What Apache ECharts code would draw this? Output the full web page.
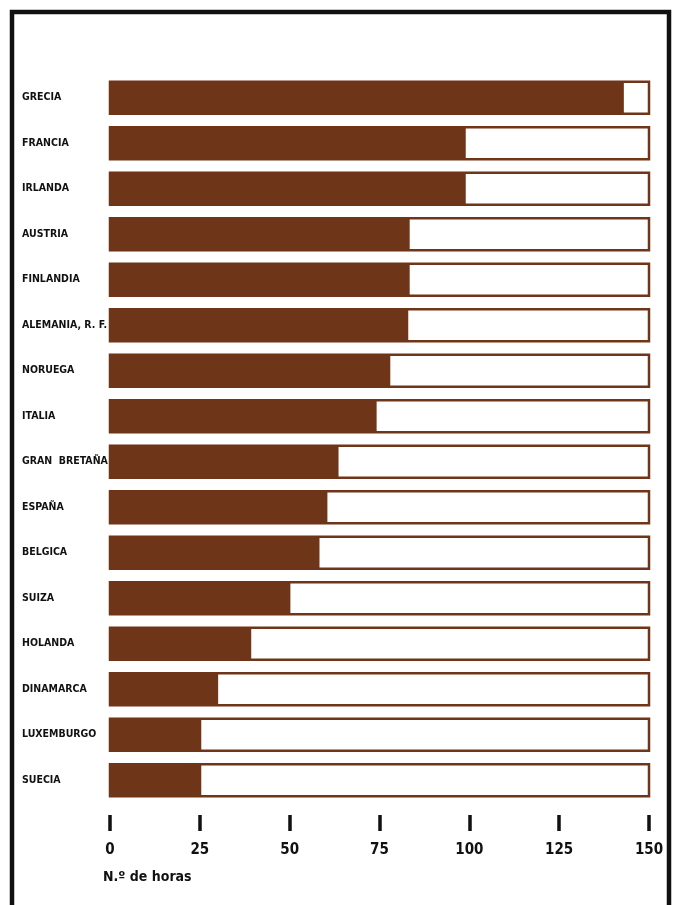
<!DOCTYPE html>
<html>
<head>
<meta charset="utf-8">
<script src="https://cdn.jsdelivr.net/npm/echarts@6/dist/echarts.min.js"></script>
<style>
html,body{margin:0;padding:0;background:#fff;}
#c{width:674px;height:905px;}
</style>
</head>
<body>
<div id="c"></div>
<script>
const countries = ['GRECIA','FRANCIA','IRLANDA','AUSTRIA','FINLANDIA','ALEMANIA, R. F.','NORUEGA','ITALIA','GRAN  BRETAÑA','ESPAÑA','BELGICA','SUIZA','HOLANDA','DINAMARCA','LUXEMBURGO','SUECIA'];
const hours = [143, 99, 99, 83.4, 83.4, 83, 78, 74.2, 63.6, 60.5, 58.3, 50.2, 39.3, 30.1, 25.4, 25.4];
const axisMax = 150;
const tickStep = 25;
const axisTitle = 'N.º de horas';

const brown = '#6e3518';
const font = '"DejaVu Sans Condensed", "Liberation Sans Narrow", Arial, sans-serif';

const chart = echarts.init(document.getElementById('c'), null, {renderer:'canvas'});
chart.setOption({
  animation:false,
  backgroundColor:'#fff',
  grid:{left:110, right:25, top:75, bottom:102, containLabel:false},
  xAxis:{
    type:'value', min:0, max:axisMax, interval:tickStep,
    position:'bottom', offset:12,
    axisLine:{show:false},
    axisTick:{show:true, length:16, inside:false, lineStyle:{color:'#111', width:3.5}},
    splitLine:{show:false},
    axisLabel:{margin:28, color:'#111', fontFamily:font, fontWeight:'bold', fontSize:15}
  },
  yAxis:{
    type:'category', data:countries, inverse:true,
    axisLine:{show:false}, axisTick:{show:false},
    axisLabel:{align:'left', margin:88, color:'#111', fontFamily:font, fontWeight:'bold', fontSize:10.5,
      width:140, overflow:'none', hideOverlap:false}
  },
  series:[{
    type:'bar', data:hours, barWidth:32,
    itemStyle:{color:brown},
    showBackground:true,
    backgroundStyle:{color:'#fff', borderColor:brown, borderWidth:2.5}
  }],
  graphic:[
    {type:'rect', shape:{x:12, y:12, width:657, height:920}, style:{fill:'none', stroke:'#111', lineWidth:4.5}, silent:true},
    {type:'text', left:103, top:870, style:{text:axisTitle, font:'bold 14px '+font, fill:'#111'}}
  ]
});
</script>
</body>
</html>
